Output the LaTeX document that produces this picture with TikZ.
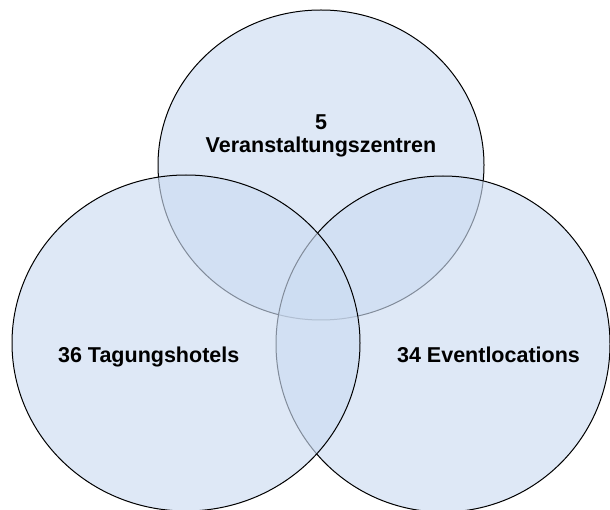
\documentclass[tikz,border=0pt]{standalone}
\usepackage{fontspec}
\setmainfont{Liberation Sans}
\usetikzlibrary{shapes.geometric}
\definecolor{SetClr}{rgb}{0.796,0.859,0.945}

\begin{document}
\begin{tikzpicture}[x=1pt,y=-1pt,
  set/.style={ellipse,draw=black,line width=1pt,fill=SetClr,fill opacity=0.64,inner sep=0pt},
  lbl/.style={font=\bfseries\fontsize{21.5}{23.5}\selectfont,align=center,text=black}]
\useasboundingbox (0,0) rectangle (610,510);

% the three sets
\node[set,minimum width=326pt,minimum height=310pt] (zentren) at (321,165) {};
\node[set,minimum width=334pt,minimum height=336pt] (events) at (443,344) {};
\node[set,minimum width=348pt,minimum height=336pt] (hotels) at (186,343) {};

% counts
\node[lbl] (zentrenLbl) at (321,136) {5\\Veranstaltungszentren};
\node[lbl,anchor=base] (hotelsLbl) at (148.7,362.7) {36 Tagungshotels};
\node[lbl,anchor=base] (eventsLbl) at (488.5,362.7) {34 Eventlocations};

\end{tikzpicture}
\end{document}
